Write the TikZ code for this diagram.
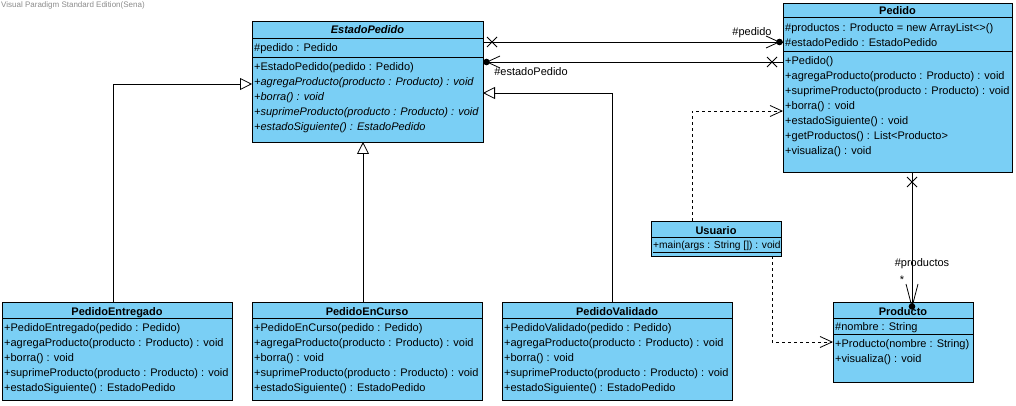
\documentclass[tikz,border=0pt]{standalone}
\usepackage{fontspec}
\setmainfont{Liberation Sans}
\usetikzlibrary{arrows.meta}
\definecolor{vpblue}{RGB}{122,207,245}
\newcommand{\fs}{\fontsize{11}{13}\selectfont}
\tikzset{
  cls/.style={draw, fill=vpblue, line width=0.9pt, anchor=north west, inner sep=0pt, outer sep=0pt},
  sepl/.style={line width=0.9pt},
  tx/.style={anchor=base west, inner sep=0pt, font=\fs},
  hd/.style={anchor=base, inner sep=0pt, font=\fs\bfseries},
  lbl/.style={anchor=base, inner sep=0pt, font=\fs},
  conn/.style={line width=0.8pt},
  gen/.style={conn, -{Triangle[open, fill=white, length=12pt, width=12pt, line width=0.8pt]}},
  dep/.style={conn, dashed, -{Straight Barb[length=12pt, width=11pt, line width=0.8pt]}},
  xmark/.style={line width=0.8pt},
  vee/.style={line width=0.8pt},
}
\begin{document}
\begin{tikzpicture}[x=1pt, y=-1pt]
\useasboundingbox (0,0) rectangle (1016,406);
\fill[white] (0,0) rectangle (1016,406);

% watermark
\node[anchor=west, inner sep=0pt, font=\fontsize{8}{9}\selectfont, text=black!45] (wm) at (1,5) {Visual Paradigm Standard Edition(Sena)};

% ---------------- EstadoPedido ----------------
\node[cls, minimum width=231pt, minimum height=121pt] (est) at (252,21) {};
\draw[sepl] (252,38) -- (483,38);
\draw[sepl] (252,57) -- (483,57);
\node[hd, font=\fs\bfseries\itshape] (estT) at (367.5,34) {EstadoPedido};
\node[tx] (est1) at (254,51.5) {\#pedido : Pedido};
\node[tx] (est2) at (254,70.5) {+EstadoPedido(pedido : Pedido)};
\node[tx] (est3) at (254,85.5) {\itshape +agregaProducto(producto : Producto) : void};
\node[tx] (est4) at (254,100.5) {\itshape +borra() : void};
\node[tx] (est5) at (254,115.5) {\itshape +suprimeProducto(producto : Producto) : void};
\node[tx] (est6) at (254,130.5) {\itshape +estadoSiguiente() : EstadoPedido};

% ---------------- Pedido ----------------
\node[cls, minimum width=229pt, minimum height=169pt] (ped) at (783,3) {};
\draw[sepl] (783,17.5) -- (1012,17.5);
\draw[sepl] (783,51) -- (1012,51);
\node[hd] (pedT) at (897.5,14.5) {Pedido};
\node[tx] (ped1) at (785,31.5) {\#productos : Producto = new ArrayList<>()};
\node[tx] (ped2) at (785,46.5) {\#estadoPedido : EstadoPedido};
\node[tx] (ped3) at (785,65) {+Pedido()};
\node[tx] (ped4) at (785,80) {+agregaProducto(producto : Producto) : void};
\node[tx] (ped5) at (785,95) {+suprimeProducto(producto : Producto) : void};
\node[tx] (ped6) at (785,110) {+borra() : void};
\node[tx] (ped7) at (785,125) {+estadoSiguiente() : void};
\node[tx] (ped8) at (785,140) {+getProductos() : List<Producto>};
\node[tx] (ped9) at (785,155) {+visualiza() : void};

% ---------------- Usuario ----------------
\node[cls, minimum width=130pt, minimum height=35pt] (usu) at (651,221) {};
\draw[sepl] (651,237) -- (781,237);
\node[hd] (usuT) at (716,234) {Usuario};
\node[tx, font=\fontsize{10.2}{12}\selectfont] (usu1) at (653,248.5) {\underline{+main(args : String []) : void}};

% ---------------- Producto ----------------
\node[cls, minimum width=140pt, minimum height=80pt] (pro) at (833,302) {};
\draw[sepl] (833,318) -- (973,318);
\draw[sepl] (833,334) -- (973,334);
\node[hd] (proT) at (903,315) {Producto};
\node[tx] (pro1) at (835,330) {\#nombre : String};
\node[tx] (pro2) at (835,347) {+Producto(nombre : String)};
\node[tx] (pro3) at (835,362) {+visualiza() : void};

% ---------------- PedidoEntregado ----------------
\node[cls, minimum width=230pt, minimum height=98pt] (pe) at (2,302) {};
\draw[sepl] (2,318) -- (232,318);
\node[hd] (peT) at (117,315) {PedidoEntregado};
\node[tx] (pe1) at (4,331) {+PedidoEntregado(pedido : Pedido)};
\node[tx] (pe2) at (4,346) {+agregaProducto(producto : Producto) : void};
\node[tx] (pe3) at (4,361) {+borra() : void};
\node[tx] (pe4) at (4,376) {+suprimeProducto(producto : Producto) : void};
\node[tx] (pe5) at (4,391) {+estadoSiguiente() : EstadoPedido};

% ---------------- PedidoEnCurso ----------------
\node[cls, minimum width=230pt, minimum height=98pt] (pc) at (252,302) {};
\draw[sepl] (252,318) -- (482,318);
\node[hd] (pcT) at (367,315) {PedidoEnCurso};
\node[tx] (pc1) at (254,331) {+PedidoEnCurso(pedido : Pedido)};
\node[tx] (pc2) at (254,346) {+agregaProducto(producto : Producto) : void};
\node[tx] (pc3) at (254,361) {+borra() : void};
\node[tx] (pc4) at (254,376) {+suprimeProducto(producto : Producto) : void};
\node[tx] (pc5) at (254,391) {+estadoSiguiente() : EstadoPedido};

% ---------------- PedidoValidado ----------------
\node[cls, minimum width=230pt, minimum height=98pt] (pv) at (502,302) {};
\draw[sepl] (502,318) -- (732,318);
\node[hd] (pvT) at (617,315) {PedidoValidado};
\node[tx] (pv1) at (504,331) {+PedidoValidado(pedido : Pedido)};
\node[tx] (pv2) at (504,346) {+agregaProducto(producto : Producto) : void};
\node[tx] (pv3) at (504,361) {+borra() : void};
\node[tx] (pv4) at (504,376) {+suprimeProducto(producto : Producto) : void};
\node[tx] (pv5) at (504,391) {+estadoSiguiente() : EstadoPedido};

% ---------------- connector end points ----------------
\coordinate (estR42) at (483,42);
\coordinate (pedL42) at (783,42);
\coordinate (estR62) at (483,62);
\coordinate (pedL62) at (783,62);
\coordinate (estL84) at (252,84);
\coordinate (estR93) at (483,93);
\coordinate (estB) at (363,142);
\coordinate (peN) at (113,302);
\coordinate (pcN) at (363,302);
\coordinate (pvN) at (612,302);
\coordinate (usuN) at (692,221);
\coordinate (pedL111) at (783,111);
\coordinate (usuS) at (772,256);
\coordinate (proL342) at (833,342);
\coordinate (pedS) at (912,172);
\coordinate (proN) at (912,302);

% ---------------- generalizations ----------------
\draw[gen] (peN) |- (estL84);
\draw[gen] (pcN) -- (estB);
\draw[gen] (pvN) |- (estR93);

% ---------------- associations ----------------
% EstadoPedido -> Pedido (#pedido)
\draw[conn] (estR42) -- (pedL42);
\fill ([xshift=-3.5pt]pedL42) circle (3.3pt);
\draw[vee] ([shift={(-17,-6)}]pedL42) -- ([xshift=-4pt]pedL42) -- ([shift={(-17,6)}]pedL42);
\draw[xmark] ([shift={(4,-5)}]estR42) -- ([shift={(14,5)}]estR42);
\draw[xmark] ([shift={(4,5)}]estR42) -- ([shift={(14,-5)}]estR42);
\node[lbl] (lpedido) at (752,36) {\#pedido};

% Pedido -> EstadoPedido (#estadoPedido)
\draw[conn] (pedL62) -- (estR62);
\fill ([xshift=3.5pt]estR62) circle (3.3pt);
\draw[vee] ([shift={(17,-6)}]estR62) -- ([xshift=4pt]estR62) -- ([shift={(17,6)}]estR62);
\draw[xmark] ([shift={(-16,-5)}]pedL62) -- ([shift={(-6,5)}]pedL62);
\draw[xmark] ([shift={(-16,5)}]pedL62) -- ([shift={(-6,-5)}]pedL62);
\node[lbl] (lestado) at (531,76) {\#estadoPedido};

% Pedido -> Producto (#productos)
\draw[conn] (pedS) -- ([yshift=-4pt]proN);
\fill ([yshift=-4.5pt]proN) circle (3.3pt);
\draw[vee] ([shift={(-6,-18)}]proN) -- ([yshift=-5pt]proN) -- ([shift={(6,-18)}]proN);
\draw[xmark] ([shift={(-5,5)}]pedS) -- ([shift={(5,15)}]pedS);
\draw[xmark] ([shift={(5,5)}]pedS) -- ([shift={(-5,15)}]pedS);
\node[lbl] (lprod) at (922,266) {\#productos};
\node[lbl] (lmult) at (902,283) {*};

% ---------------- dependencies ----------------
\draw[dep] (usuN) |- (pedL111);
\draw[dep] (usuS) |- (proL342);
\end{tikzpicture}
\end{document}
